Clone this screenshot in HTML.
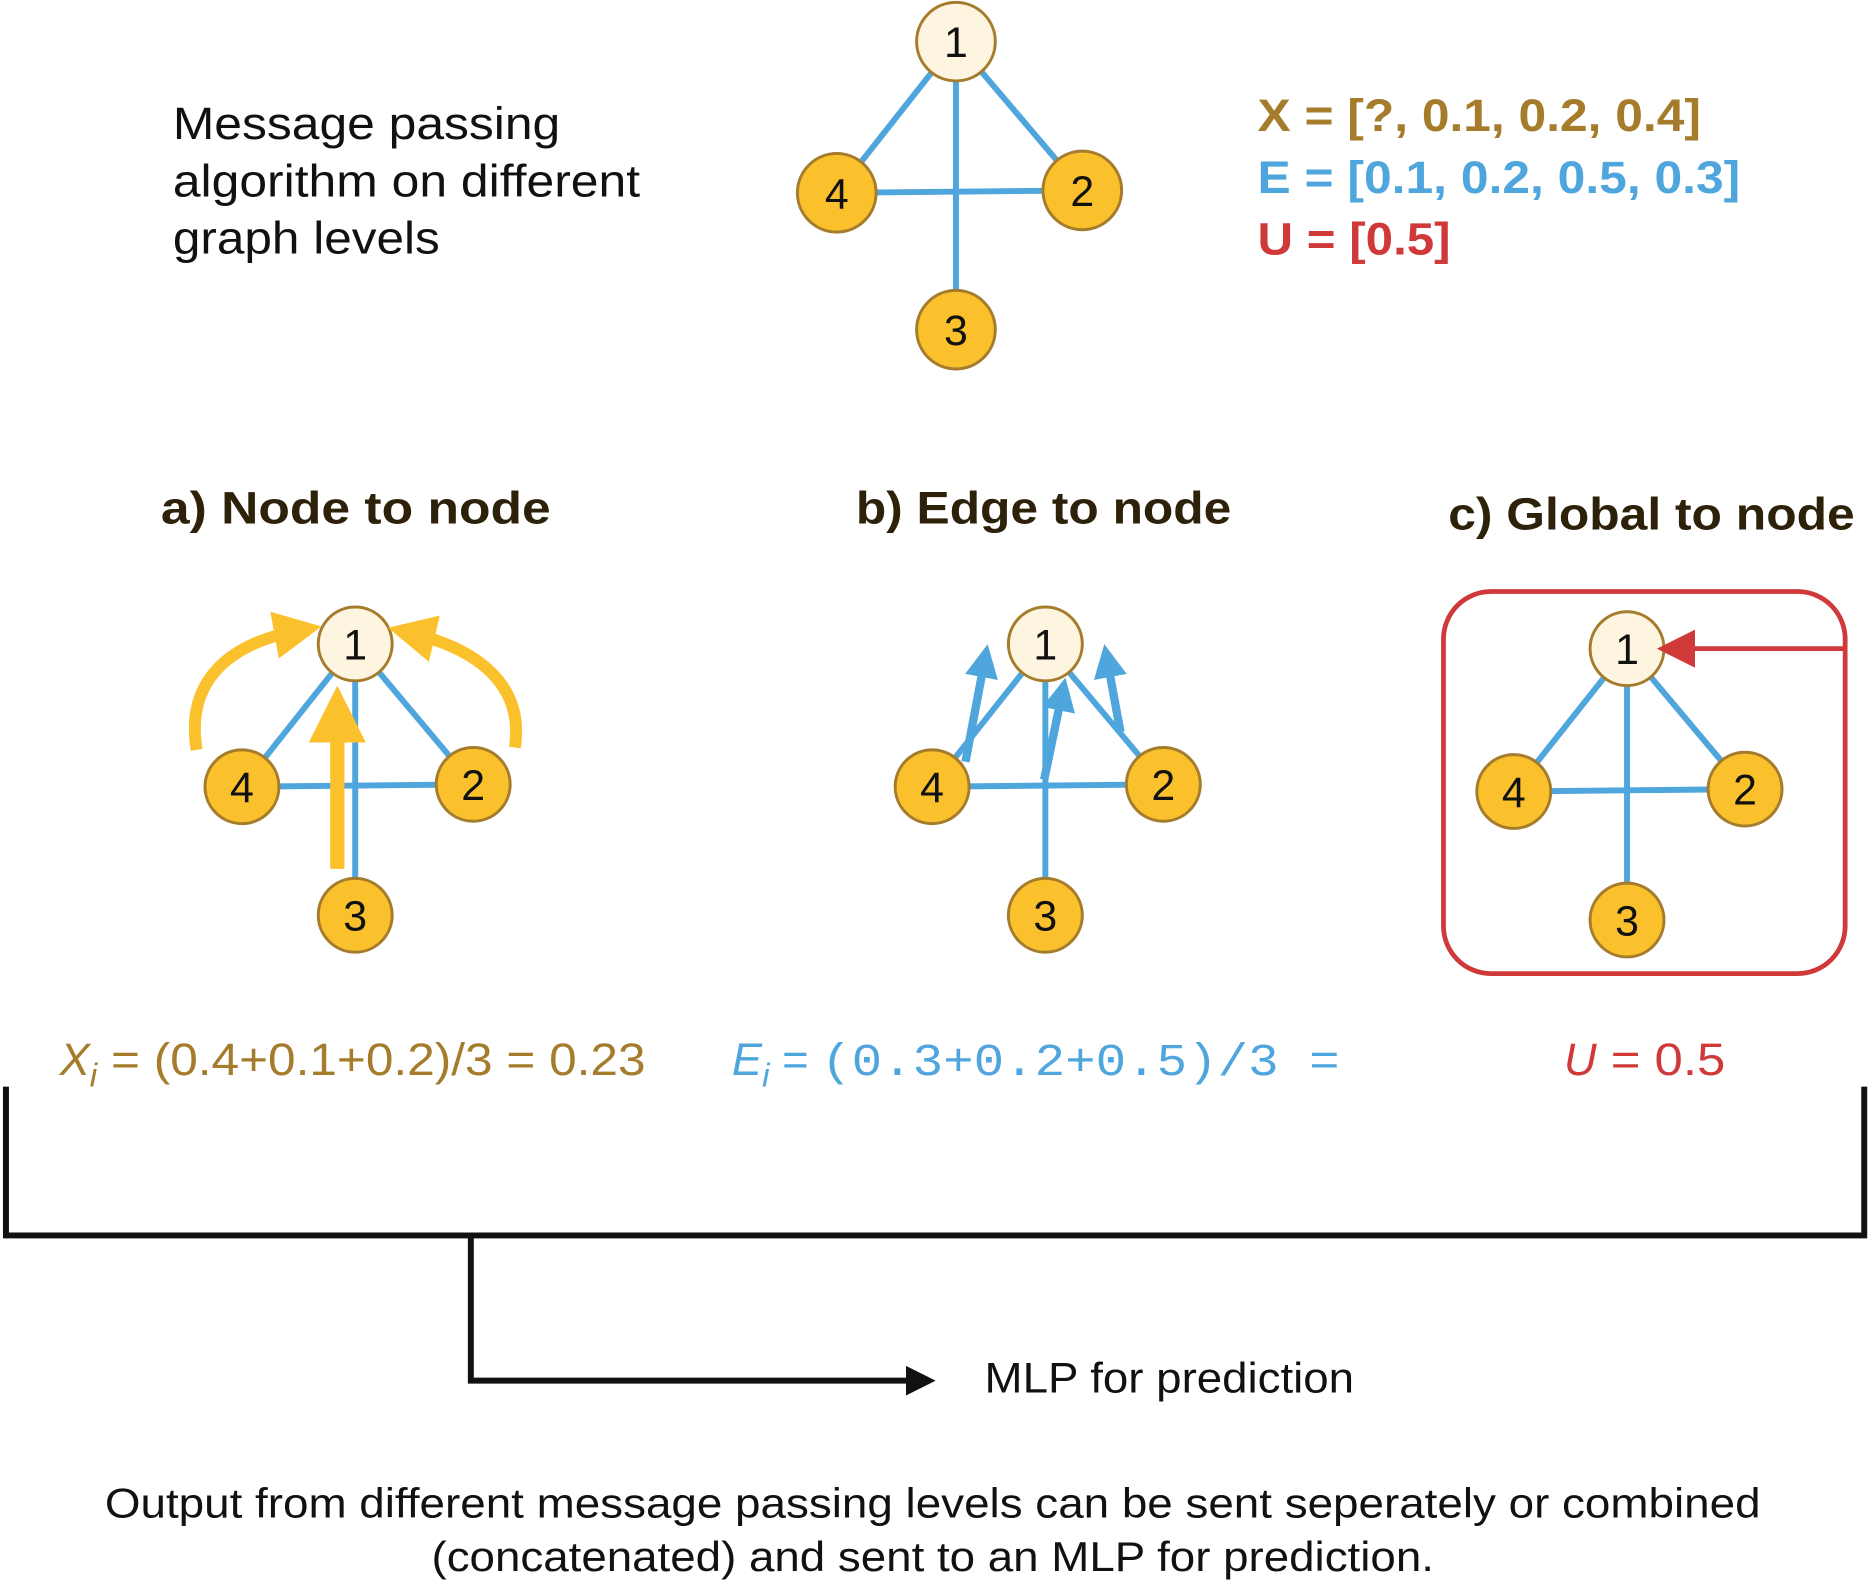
<!DOCTYPE html>
<html><head><meta charset="utf-8"><style>html,body{margin:0;padding:0;background:#fff;}svg{display:block}</style></head>
<body>
<svg width="1869" height="1583" viewBox="0 0 1568 1330" preserveAspectRatio="none" xmlns="http://www.w3.org/2000/svg" font-family="Liberation Sans, sans-serif">
<defs>
<marker id="ay" markerWidth="4" markerHeight="4" refX="2" refY="2" orient="auto" markerUnits="strokeWidth"><path d="M0,0 L4,2 L0,4 z" fill="#fbc12c"/></marker>
<marker id="ab" markerWidth="4" markerHeight="4" refX="2" refY="2" orient="auto" markerUnits="strokeWidth"><path d="M0,0 L4,2 L0,4 z" fill="#4ea6dd"/></marker>
<marker id="ar" markerWidth="8" markerHeight="8" refX="3" refY="4" orient="auto" markerUnits="strokeWidth"><path d="M0,0 L8,4 L0,8 z" fill="#d0393a"/></marker>
<marker id="ak" markerWidth="5" markerHeight="5" refX="2" refY="2.5" orient="auto" markerUnits="strokeWidth"><path d="M0,0 L5,2.5 L0,5 z" fill="#111"/></marker>
</defs>

<text x="145" y="117" font-size="38" fill="#111" textLength="325" lengthAdjust="spacingAndGlyphs">Message passing</text>
<text x="145" y="165" font-size="38" fill="#111" textLength="392" lengthAdjust="spacingAndGlyphs">algorithm on different</text>
<text x="145" y="213" font-size="38" fill="#111" textLength="224" lengthAdjust="spacingAndGlyphs">graph levels</text>

<text x="1055" y="110" font-size="38" font-weight="bold" fill="#a57c2c" textLength="372" lengthAdjust="spacingAndGlyphs">X = [?, 0.1, 0.2, 0.4]</text>
<text x="1055" y="162" font-size="38" font-weight="bold" fill="#4ea6dd" textLength="405" lengthAdjust="spacingAndGlyphs">E = [0.1, 0.2, 0.5, 0.3]</text>
<text x="1055" y="214" font-size="38" font-weight="bold" fill="#d0393a" textLength="162" lengthAdjust="spacingAndGlyphs">U = [0.5]</text>

<text x="135" y="440" font-size="38" font-weight="bold" fill="#2d2209" textLength="327" lengthAdjust="spacingAndGlyphs">a)  Node to node</text>
<text x="718" y="440" font-size="38" font-weight="bold" fill="#2d2209" textLength="315" lengthAdjust="spacingAndGlyphs">b) Edge to node</text>
<text x="1215" y="445" font-size="38" font-weight="bold" fill="#2d2209" textLength="341" lengthAdjust="spacingAndGlyphs">c) Global to node</text>

<g id="graphs"></g>

<path d="M165,630 C155,570 195,540 250,530" stroke="#fbc12c" stroke-width="10" fill="none" marker-end="url(#ay)"/>
<path d="M432,628 C440,575 400,545 345,532" stroke="#fbc12c" stroke-width="10" fill="none" marker-end="url(#ay)"/>
<line x1="283" y1="730" x2="283" y2="600" stroke="#fbc12c" stroke-width="12" marker-end="url(#ay)"/>
<line x1="810" y1="640" x2="826" y2="555" stroke="#4ea6dd" stroke-width="7" marker-end="url(#ab)"/>
<line x1="876" y1="655" x2="891" y2="583" stroke="#4ea6dd" stroke-width="7" marker-end="url(#ab)"/>
<line x1="940" y1="615" x2="929" y2="555" stroke="#4ea6dd" stroke-width="7" marker-end="url(#ab)"/>
<rect x="1211" y="497" width="337" height="321" rx="40" fill="none" stroke="#d0393a" stroke-width="4"/>
<line x1="1548" y1="545" x2="1410" y2="545" stroke="#d0393a" stroke-width="4" marker-end="url(#ar)"/>

<text x="50" y="903" font-size="38" fill="#a57c2c"><tspan font-style="italic">X<tspan font-size="28" dy="10">i</tspan></tspan><tspan dy="-10" textLength="460" lengthAdjust="spacingAndGlyphs"> = (0.4+0.1+0.2)/3 = 0.23</tspan></text>
<text x="614" y="903" font-size="38" fill="#4ea6dd"><tspan font-style="italic">E<tspan font-size="28" dy="10">i</tspan></tspan><tspan dy="-10"> = </tspan><tspan font-family="Liberation Mono, monospace" font-size="38" textLength="435" lengthAdjust="spacingAndGlyphs"> (0.3+0.2+0.5)/3 =</tspan></text>
<text x="1312" y="903" font-size="38" fill="#d0393a"><tspan font-style="italic">U</tspan><tspan textLength="108" lengthAdjust="spacingAndGlyphs"> = 0.5</tspan></text>

<path d="M5,913 V1038 H1564 V913" stroke="#111" stroke-width="5" fill="none"/>
<path d="M395,1038 V1160 H770" stroke="#111" stroke-width="5" fill="none" marker-end="url(#ak)"/>
<text x="826" y="1170" font-size="36" fill="#111" textLength="310" lengthAdjust="spacingAndGlyphs">MLP for prediction</text>
<text x="88" y="1275" font-size="35" fill="#111" textLength="1389" lengthAdjust="spacingAndGlyphs">Output from different message passing levels can be sent seperately or combined</text>
<text x="362" y="1320" font-size="35" fill="#111" textLength="841" lengthAdjust="spacingAndGlyphs">(concatenated) and sent to an MLP for prediction.</text>

<script>
const graphCenters = [[802,35,33,0],[298,541,31,1],[877,541,31,1],[1365,545,31,1]];
const nodeOffsets = [[0,0],[99,118],[0,228],[-95,120]];
const nodeOffsetsTop = [[0,0],[106,125],[0,242],[-100,127]];
const g = document.getElementById('graphs');
const NS = 'http://www.w3.org/2000/svg';
graphCenters.forEach((c, gi) => {
  const offs = gi === 0 ? nodeOffsetsTop : nodeOffsets;
  const pts = offs.map(o => [c[0]+o[0], c[1]+o[1]]);
  const edges = [[0,1],[0,3],[0,2],[3,1]];
  edges.forEach(e => {
    const l = document.createElementNS(NS,'line');
    l.setAttribute('x1',pts[e[0]][0]); l.setAttribute('y1',pts[e[0]][1]);
    l.setAttribute('x2',pts[e[1]][0]); l.setAttribute('y2',pts[e[1]][1]);
    l.setAttribute('stroke','#4ea6dd'); l.setAttribute('stroke-width','5');
    
    
    g.appendChild(l);
  });
  pts.forEach((p, i) => {
    const ci = document.createElementNS(NS,'circle');
    ci.setAttribute('cx',p[0]); ci.setAttribute('cy',p[1]); ci.setAttribute('r',c[2]);
    ci.setAttribute('fill', i === 0 ? '#fef5e0' : '#fbc12c');
    ci.setAttribute('stroke','#a57c2c'); ci.setAttribute('stroke-width','2.5');
    
    
    g.appendChild(ci);
    const t = document.createElementNS(NS,'text');
    t.setAttribute('x',p[0]); t.setAttribute('y',p[1]+13);
    t.setAttribute('text-anchor','middle'); t.setAttribute('font-size','36'); t.setAttribute('fill','#111');
    t.textContent = String(i+1);
    
    
    g.appendChild(t);
  });
});
</script>
</svg>
</body></html>
